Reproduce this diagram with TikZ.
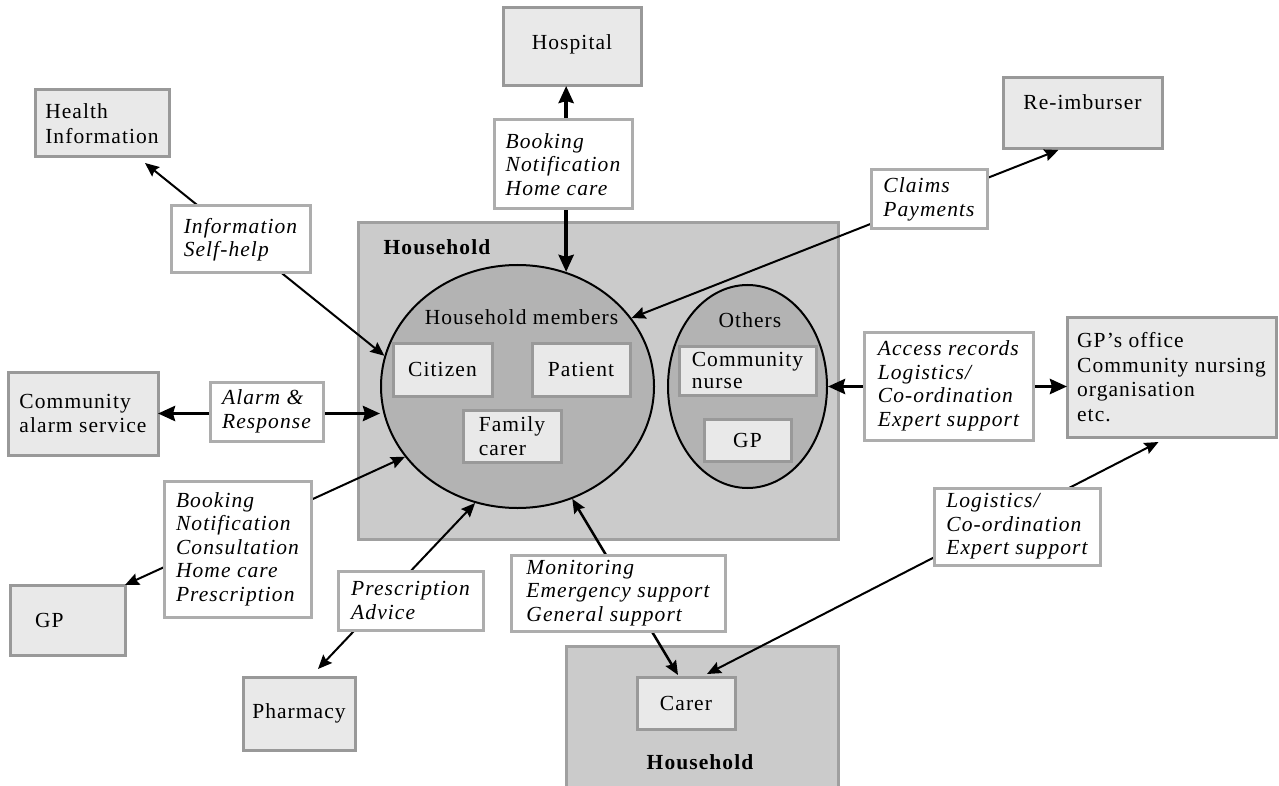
\documentclass[tikz,border=0pt]{standalone}
\usepackage{fontspec}
\setmainfont{Liberation Serif}[LetterSpace=5]
\usetikzlibrary{shapes.geometric,arrows.meta,calc}
\definecolor{boxfill}{HTML}{E9E9E9}
\definecolor{boxline}{HTML}{999999}
\definecolor{hhfill}{HTML}{CBCBCB}
\definecolor{hhline}{HTML}{A0A0A0}
\definecolor{hmfill}{HTML}{B3B3B3}
\definecolor{lblline}{HTML}{ADADAD}
\tikzset{
  sz/.style 2 args={minimum width=#1pt, minimum height=#2pt},
  ebox/.style={draw=boxline, line width=3pt, fill=boxfill, inner sep=0pt, outer sep=0pt, align=left, font=\fontsize{21.5}{24.5}\selectfont},
  lbox/.style={draw=lblline, line width=3pt, fill=white, inner sep=0pt, outer sep=0pt, align=left, font=\fontsize{21.5}{23.5}\selectfont\itshape},
  tip/.tip={Stealth[length=14pt,width=12pt,inset=2pt]},
  bigtip/.tip={Stealth[length=17pt,width=15pt,inset=2pt]},
  conn/.style={line width=2pt, tip-tip},
  thickconn/.style={line width=3.5pt, bigtip-bigtip},
  hh/.style={draw=hhline, line width=3pt, fill=hhfill},
  grp/.style={ellipse, draw=black, line width=2pt, fill=hmfill, inner sep=0pt},
  ttl/.style={font=\fontsize{21.5}{24}\selectfont\bfseries, inner sep=0pt},
  plain/.style={font=\fontsize{21.5}{24}\selectfont, inner sep=0pt},
}
\begin{document}
\begin{tikzpicture}[x=1pt,y=-1pt]
\useasboundingbox (0,0) rectangle (1279,786);
\clip (0,0) rectangle (1279,786);
\fill[white] (0,0) rectangle (1279,786);

% household
\node[hh, sz={480}{316}] (house) at (598,381) {};
\node[ttl] (houselbl) at (437,247) {Household};
\node[grp, sz={273}{243}] (hm) at (517.5,386.5) {};
\node[plain] (hmlbl) at (521.5,317) {Household members};
\node[grp, sz={159}{203}] (oth) at (747.5,386.5) {};
\node[plain] (othlbl) at (750,320) {Others};
\node[ebox, sz={99}{53}] (citizen) at (442.5,369.5) {Citizen};
\node[ebox, sz={98}{53}] (patient) at (581,369.5) {Patient};
\node[ebox, sz={98}{52}] (famcarer) at (512,436) {Family\\carer};
\node[ebox, sz={137}{49}, font=\fontsize{21.5}{22}\selectfont] (cnurse) at (747.5,370.5) {Community\\nurse};
\node[ebox, sz={87}{42}] (gpin) at (747.5,440) {GP};

% outer boxes
\node[ebox, sz={134}{67}] (hinfo) at (102,123.5) {Health\\Information};
\node[ebox, sz={138}{78}, text depth=10pt] (hosp) at (572,47) {Hospital};
\node[ebox, sz={159}{71}, text depth=22pt] (reimb) at (1082.5,113.5) {Re-imburser};
\node[ebox, sz={150}{83}] (alarm) at (83,413.5) {Community\\alarm service};
\node[ebox, sz={115}{70}, text width=65pt] (gp) at (67.5,620) {GP};
\node[ebox, sz={112}{73}] (pharm) at (299,713.5) {Pharmacy};
\node[ebox, sz={209}{120}] (gpo) at (1171.5,377) {GP’s office\\Community nursing\\organisation\\etc.};

% second household
\node[hh, sz={272}{150}] (house2) at (702,721) {};
\node[ebox, sz={98}{52}] (carer) at (686,703) {Carer};
\node[ttl] (house2lbl) at (700,762) {Household};

% connectors
\draw[conn] ($(hinfo.south)+(43,6)$) -- (hm.167);
\draw[line width=4pt, bigtip-bigtip] (hm.67) -- (hm.67 |- hosp.south);
\draw[conn] ($(reimb.south)+(-24,1)$) -- (hm.31);
\draw[thickconn] (alarm.east) -- (alarm.east -| hm.west);
\draw[conn] (gp.north east) -- (hm.212);
\draw[conn] ($(pharm.north)+(19,-8)$) -- (hm.250);
\draw[conn, line width=2.5pt] (hm.296) -- ($(carer.north)+(-8,-2)$);
\draw[conn] ($(carer.north)+(21,-3)$) -- ($(gpo.south)+(-13,5)$);
\draw[thickconn] (oth.east) -- (oth.east -| gpo.west);

% labels
\node[lbox, sz={139}{67}] (linfo) at (240.5,239.5) {Information\\Self-help};
\node[lbox, sz={138}{89}] (lhosp) at (563,164.5) {Booking\\Notification\\Home care};
\node[lbox, sz={116}{59}] (lclaim) at (929,199.5) {Claims\\Payments};
\node[lbox, sz={113}{59}] (lalarm) at (266.5,411.5) {Alarm \&\\Response};
\node[lbox, sz={147}{136}] (lgp) at (237.5,549) {Booking\\Notification\\Consultation\\Home care\\Prescription};
\node[lbox, sz={145}{59}] (lpresc) at (410.5,600.5) {Prescription\\Advice};
\node[lbox, sz={214}{76}] (lmon) at (618,593) {Monitoring\\Emergency support\\General support};
\node[lbox, sz={169}{108}] (lacc) at (948.5,386) {Access records\\Logistics/\\Co-ordination\\Expert support};
\node[lbox, sz={166}{77}] (llog) at (1017,526.5) {Logistics/\\Co-ordination\\Expert support};
\end{tikzpicture}
\end{document}
